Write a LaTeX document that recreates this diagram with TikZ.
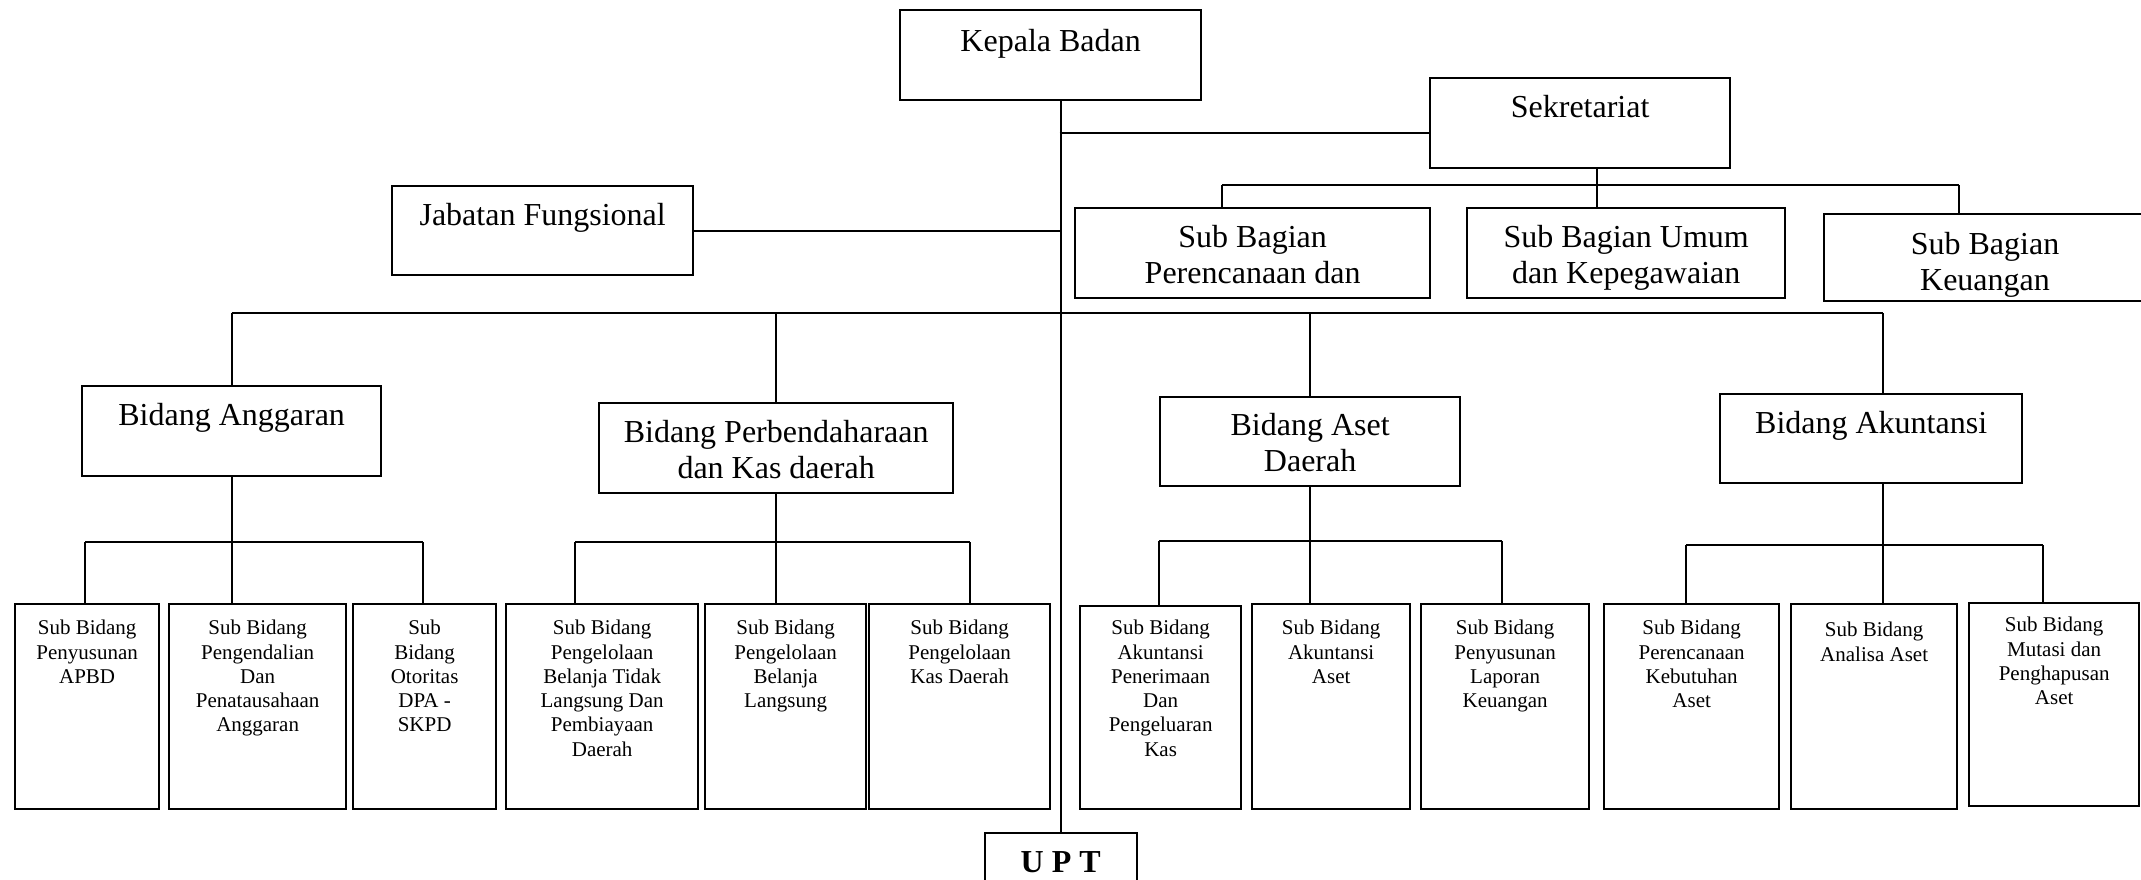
\documentclass[tikz,border=0pt]{standalone}
\usepackage{fontspec}
\setmainfont{Liberation Serif}
\begin{document}
\begin{tikzpicture}[x=1pt,y=-1pt,
  box/.style={draw, line width=2.3pt, inner sep=0pt, anchor=north west},
  ln/.style={line width=2pt},
  big/.style={font=\fontsize{32}{36}\selectfont, align=center, inner sep=0pt},
  small/.style={font=\fontsize{21}{24.3}\selectfont, align=center, inner sep=0pt, anchor=north},
  bold/.style={font=\fontsize{32}{36}\selectfont\bfseries, inner sep=0pt, anchor=base}]
\useasboundingbox (0,0) rectangle (2141,880);
% ---- boxes
\node[box, minimum width=301pt, minimum height=90pt] (kb) at (899,9) {};
\node[box, minimum width=300pt, minimum height=90pt] (sek) at (1429,77) {};
\node[box, minimum width=301pt, minimum height=89pt] (jab) at (391,185) {};
\node[box, minimum width=355pt, minimum height=90pt] (sbp) at (1074,207) {};
\node[box, minimum width=318pt, minimum height=90pt] (sbu) at (1466,207) {};
\node[box, minimum width=340pt, minimum height=87pt] (sbk) at (1823,213) {};
\node[box, minimum width=299pt, minimum height=90pt] (ang) at (81,385) {};
\node[box, minimum width=354pt, minimum height=90pt] (perb) at (598,402) {};
\node[box, minimum width=300pt, minimum height=89pt] (aset) at (1159,396) {};
\node[box, minimum width=302pt, minimum height=89pt] (akun) at (1719,393) {};
\node[box, minimum width=144pt, minimum height=205pt] (b1) at (14,603) {};
\node[box, minimum width=177pt, minimum height=205pt] (b2) at (168,603) {};
\node[box, minimum width=143pt, minimum height=205pt] (b3) at (352,603) {};
\node[box, minimum width=192pt, minimum height=205pt] (b4) at (505,603) {};
\node[box, minimum width=161pt, minimum height=205pt] (b5) at (704,603) {};
\node[box, minimum width=181pt, minimum height=205pt] (b6) at (868,603) {};
\node[box, minimum width=161pt, minimum height=203pt] (b7) at (1079,605) {};
\node[box, minimum width=158pt, minimum height=205pt] (b8) at (1251,603) {};
\node[box, minimum width=168pt, minimum height=205pt] (b9) at (1420,603) {};
\node[box, minimum width=175pt, minimum height=205pt] (b10) at (1603,603) {};
\node[box, minimum width=166pt, minimum height=205pt] (b11) at (1790,603) {};
\node[box, minimum width=170pt, minimum height=203pt] (b12) at (1968,602) {};
\node[box, minimum width=152pt, minimum height=70pt] (upt) at (983.5,832) {};
% ---- texts
\node[big, anchor=base] (tkb) at ([yshift=-43pt]kb.north) {Kepala Badan};
\node[big, anchor=base] (tsek) at ([yshift=-41pt]sek.north) {Sekretariat};
\node[big, anchor=base] (tjab) at ([yshift=-40pt]jab.north) {Jabatan Fungsional};
\node[big, anchor=north] (tsbp) at ([yshift=-18pt]sbp.north) {Sub Bagian\\Perencanaan dan};
\node[big, anchor=north] (tsbu) at ([yshift=-18pt]sbu.north) {Sub Bagian Umum\\dan Kepegawaian};
\node[big, anchor=north] (tsbk) at (1985,232) {Sub Bagian\\Keuangan};
\node[big, anchor=base] (tang) at ([yshift=-40pt]ang.north) {Bidang Anggaran};
\node[big, anchor=north] (tperb) at ([yshift=-18pt]perb.north) {Bidang Perbendaharaan\\dan Kas daerah};
\node[big, anchor=north] (taset) at ([yshift=-17pt]aset.north) {Bidang Aset\\Daerah};
\node[big, anchor=base] (takun) at ([yshift=-40pt]akun.north) {Bidang Akuntansi};
\node[bold] (tupt) at ([yshift=-40pt]upt.north) {U P T};
\node[small] (t1) at ([yshift=-17pt]b1.north) {Sub Bidang\\Penyusunan\\APBD};
\node[small] (t2) at ([yshift=-17pt]b2.north) {Sub Bidang\\Pengendalian\\Dan\\Penatausahaan\\Anggaran};
\node[small] (t3) at ([yshift=-17pt]b3.north) {Sub\\Bidang\\Otoritas\\DPA -\\SKPD};
\node[small] (t4) at ([yshift=-17pt]b4.north) {Sub Bidang\\Pengelolaan\\Belanja Tidak\\Langsung Dan\\Pembiayaan\\Daerah};
\node[small] (t5) at ([yshift=-17pt]b5.north) {Sub Bidang\\Pengelolaan\\Belanja\\Langsung};
\node[small] (t6) at ([yshift=-17pt]b6.north) {Sub Bidang\\Pengelolaan\\Kas Daerah};
\node[small] (t7) at ([yshift=-15pt]b7.north) {Sub Bidang\\Akuntansi\\Penerimaan\\Dan\\Pengeluaran\\Kas};
\node[small] (t8) at ([yshift=-17pt]b8.north) {Sub Bidang\\Akuntansi\\Aset};
\node[small] (t9) at ([yshift=-17pt]b9.north) {Sub Bidang\\Penyusunan\\Laporan\\Keuangan};
\node[small] (t10) at ([yshift=-17pt]b10.north) {Sub Bidang\\Perencanaan\\Kebutuhan\\Aset};
\node[small] (t11) at ([yshift=-19pt]b11.north) {Sub Bidang\\Analisa Aset};
\node[small] (t12) at ([yshift=-15pt]b12.north) {Sub Bidang\\Mutasi dan\\Penghapusan\\Aset};
% ---- connector coordinates
\coordinate (mS) at (1059.5,133);
\coordinate (s1) at (1222,185);
\coordinate (s2) at (1597,185);
\coordinate (s3) at (1959,185);
\coordinate (bar) at (0,313);
\coordinate (aL) at (85,542);
\coordinate (aR) at (423,542);
\coordinate (pL) at (575,542);
\coordinate (pR) at (970,542);
\coordinate (eL) at (1159,541);
\coordinate (eR) at (1502,541);
\coordinate (kL) at (1686,545);
\coordinate (kM) at (1883,545);
\coordinate (kR) at (2043,545);
% ---- connectors
\draw[ln] (kb.south -| upt.north) -- (upt.north);
\draw[ln] (mS) -- (mS -| sek.west);
\draw[ln] (jab.east) -- (jab.east -| upt.north);
% sekretariat group
\draw[ln] (s2 |- sek.south) -- (s2);
\draw[ln] (s1) -- (s3);
\draw[ln] (s1) -- (s1 |- sbp.north);
\draw[ln] (s2) -- (s2 |- sbu.north);
\draw[ln] (s3) -- (s3 |- sbk.north);
% bidang bar
\draw[ln] (ang.north |- bar) -- (kM |- bar);
\draw[ln] (ang.north |- bar) -- (ang.north);
\draw[ln] (perb.north |- bar) -- (perb.north);
\draw[ln] (aset.north |- bar) -- (aset.north);
\draw[ln] (kM |- bar) -- (kM |- akun.north);
% anggaran group
\draw[ln] (ang.south) -- (ang.south |- aL);
\draw[ln] (aL) -- (aR);
\draw[ln] (aL) -- (aL |- b1.north);
\draw[ln] (ang.south |- aL) -- (ang.south |- b2.north);
\draw[ln] (aR) -- (aR |- b3.north);
% perbendaharaan group
\draw[ln] (perb.south) -- (perb.south |- pL);
\draw[ln] (pL) -- (pR);
\draw[ln] (pL) -- (pL |- b4.north);
\draw[ln] (perb.south |- pL) -- (perb.south |- b5.north);
\draw[ln] (pR) -- (pR |- b6.north);
% aset group
\draw[ln] (aset.south) -- (aset.south |- eL);
\draw[ln] (eL) -- (eR);
\draw[ln] (eL) -- (eL |- b7.north);
\draw[ln] (aset.south |- eL) -- (aset.south |- b8.north);
\draw[ln] (eR) -- (eR |- b9.north);
% akuntansi group
\draw[ln] (kM |- akun.south) -- (kM);
\draw[ln] (kL) -- (kR);
\draw[ln] (kL) -- (kL |- b10.north);
\draw[ln] (kM) -- (kM |- b11.north);
\draw[ln] (kR) -- (kR |- b12.north);
\end{tikzpicture}
\end{document}
